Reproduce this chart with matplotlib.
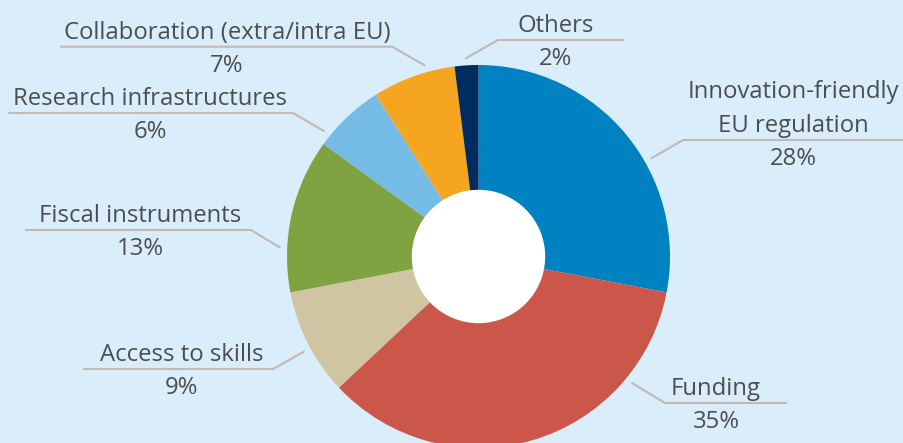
import numpy as np
import matplotlib.pyplot as plt

labels = ["Innovation-friendly\nEU regulation", "Funding", "Access to skills",
          "Fiscal instruments", "Research infrastructures",
          "Collaboration (extra/intra EU)", "Others"]
shares = [28, 35, 9, 13, 6, 7, 2]
colors = ["#0081c2", "#cb574a", "#cfc5a2", "#80a342", "#74bce6", "#f5a51f", "#012c5e"]

# label layout in image pixels: text centre x, leader y, leader x-span, anchor angle on the ring
text_x = [793, 716, 182, 140, 150, 227, 556]
line_y = [140, 403, 369, 230, 113, 46.7, 40]
line_x = [(683, 904), (665, 787), (273, 83), (251, 25), (293, 8), (392, 60), (498, 624)]
anchor_deg = [29.6, 320.5, 208.6, 177.5, 140.9, 105.6, 93.9]

W, H = 904, 443
cx, cy, R = 478.5, 256.5, 191.5
BG = "#d9eefa"
TXT = "#4b4d51"
LEAD = "#c2b9b3"

plt.rcParams["font.family"] = ["Open Sans", "DejaVu Sans"]

fig = plt.figure(figsize=(W / 100, H / 100), dpi=100, facecolor=BG)
ax = fig.add_axes([0, 0, 1, 1])


def px(x, y):
    return (x - cx) / R, (cy - y) / R


ax.pie(shares, colors=colors, startangle=90, counterclock=False, radius=1.0,
       wedgeprops=dict(width=1 - 66 / R, linewidth=0), frame=True)
ax.set_xlim(-cx / R, (W - cx) / R)
ax.set_ylim(-(H - cy) / R, cy / R)
ax.set_aspect("auto")
ax.axis("off")
ax.add_patch(plt.Circle((0, 0), 66 / R, color="white", zorder=3))

fs = 17.2
for lab, s, tx, ly, (ex, fx), ang in zip(labels, shares, text_x, line_y, line_x, anchor_deg):
    a = np.deg2rad(ang)
    ax0, ay0 = 1.035 * np.cos(a), 1.035 * np.sin(a)
    exd, eyd = px(ex, ly)
    fxd, _ = px(fx, ly)
    ax.plot([ax0, exd, fxd], [ay0, eyd, eyd], color=LEAD, lw=1.5,
            solid_capstyle="butt", zorder=2)
    tcx, _ = px(tx, ly)
    for i, line in enumerate(reversed(lab.split("\n"))):
        _, by = px(tx, ly - 8 - 34 * i)
        ax.text(tcx, by, line, ha="center", va="baseline", fontsize=fs, color=TXT)
    _, py = px(tx, ly + 25)
    ax.text(tcx, py, f"{s}%", ha="center", va="baseline", fontsize=fs, color=TXT)

fig.savefig("out.png", dpi=100, facecolor=BG)
